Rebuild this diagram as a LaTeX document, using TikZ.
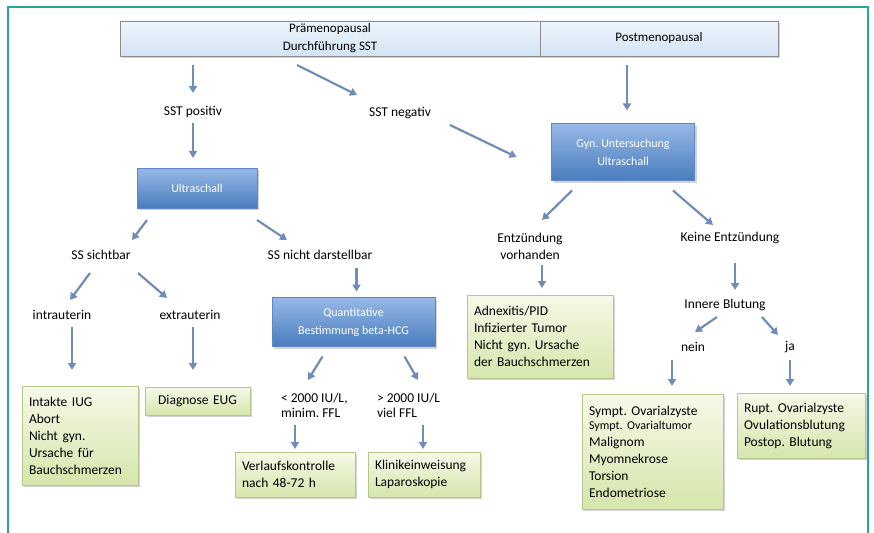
\documentclass[tikz,border=0pt]{standalone}
\usepackage{fontspec}
\setmainfont{Carlito}
\frenchspacing
\usetikzlibrary{arrows.meta,shadows,calc}
\definecolor{arrowc}{RGB}{112,140,184}
\definecolor{blueT}{RGB}{150,185,230}
\definecolor{blueB}{RGB}{74,124,190}
\definecolor{blueD}{RGB}{95,135,195}
\definecolor{greenT}{RGB}{246,249,232}
\definecolor{greenB}{RGB}{214,230,172}
\definecolor{greenD}{RGB}{180,200,140}
\definecolor{barT}{RGB}{238,245,252}
\definecolor{barB}{RGB}{212,228,245}
\definecolor{barD}{RGB}{140,140,140}
\definecolor{framec}{RGB}{38,166,148}
\begin{document}
\begin{tikzpicture}[x=1pt,y=-1pt,
  every node/.style={inner sep=0pt, outer sep=0pt},
  arr/.style={draw=arrowc, line width=2.2pt, -{Triangle[length=7pt,width=8pt]}},
  lbl/.style={font=\fontsize{13.5}{17}\selectfont, align=center},
  lbll/.style={font=\fontsize{13.5}{15}\selectfont, align=left, anchor=west},
  bluebox/.style={draw=blueD, top color=blueT, bottom color=blueB, text=white,
    font=\fontsize{12}{18}\selectfont, align=center, drop shadow={opacity=0.35}},
  greenbox/.style={draw=greenD, top color=greenT, bottom color=greenB,
    font=\fontsize{13.5}{17}\selectfont, align=left, anchor=north west,
    inner xsep=7pt, drop shadow={opacity=0.35}},
  barbox/.style={draw=barD, top color=barT, bottom color=barB,
    font=\fontsize{13}{18}\selectfont, align=center, anchor=north west,
    drop shadow={opacity=0.35}}
]
\useasboundingbox (0,0) rectangle (874,532);
\draw[framec, line width=2.5pt] (8,7) rectangle (868,545);

% top bar
\node[barbox, minimum width=420, minimum height=35] (pre) at (120,21) {Prämenopausal\\Durchführung SST};
\node[barbox, minimum width=238, minimum height=35] (post) at (540,21) {Postmenopausal};

% labels and boxes
\node[lbl] (sstpos) at (193,112) {SST positiv};
\node[lbl] (sstneg) at (400,113) {SST negativ};
\node[bluebox, minimum width=120, minimum height=40] (ultra) at (197,188) {Ultraschall};
\node[bluebox, minimum width=143, minimum height=57] (gyn) at (623,152) {Gyn. Untersuchung\\Ultraschall};
\node[lbl] (sssicht) at (101,255) {SS sichtbar};
\node[lbl] (ssnicht) at (320,255) {SS nicht darstellbar};
\node[lbl] (entz) at (530,246) {Entzündung\\vorhanden};
\node[lbl] (keine) at (730,238) {Keine Entzündung};
\node[lbl] (intra) at (62,315) {intrauterin};
\node[lbl] (extra) at (190,315) {extrauterin};
\node[bluebox, minimum width=163, minimum height=49] (quant) at (353.5,322) {Quantitative\\Bestimmung beta-HCG};
\node[lbll] (lt) at (281,405) {< 2000 IU/L,\\minim. FFL};
\node[lbll] (gt) at (377,405) {> 2000 IU/L\\viel FFL};
\node[lbl] (innere) at (725,305) {Innere Blutung};
\node[lbl] (nein) at (693,347) {nein};
\node[lbl] (ja) at (790,347) {ja};

\node[greenbox, text width=102, minimum height=99] (intak) at (22,386) {Intakte IUG\\Abort\\Nicht gyn.\\Ursache für\\Bauchschmerzen};
\node[greenbox, text width=91, minimum height=28, align=center] (eug) at (145,387) {Diagnose EUG};
\node[greenbox, text width=106, minimum height=45] (verl) at (235,452) {Verlaufskontrolle\\nach 48-72 h};
\node[greenbox, text width=98, minimum height=45] (klin) at (368,452) {Klinikeinweisung\\Laparoskopie};
\node[greenbox, text width=132, minimum height=83] (adnex) at (467,295) {Adnexitis/PID\\Infizierter Tumor\\Nicht gyn. Ursache\\der Bauchschmerzen};
\node[greenbox, text width=127, minimum height=115] (sympt) at (582,394) {Sympt. Ovarialzyste\\[-3pt]{\fontsize{12}{13}\selectfont Sympt. Ovarialtumor}\\Malignom\\Myomnekrose\\Torsion\\Endometriose};
\node[greenbox, text width=114, minimum height=65] (rupt) at (737,393) {Rupt. Ovarialzyste\\Ovulationsblutung\\Postop. Blutung};

% connectors
\draw[arr] ($(pre.south -| sstpos)+(0,9)$) -- ($(sstpos)+(0,-19)$);
\draw[arr] ($(sstpos)+(0,11)$) -- ($(ultra.north)+(-4,-10)$);
\draw[arr] ($(pre.south)+(-33,9)$) -- ($(sstneg)+(-43,-18)$);
\draw[arr] ($(sstneg)+(50,12)$) -- ($(gyn.west)+(-35,5)$);
\draw[arr] ($(gyn.north |- post.south)+(4,9)$) -- ($(gyn.north)+(4,-13)$);
\draw[arr] ($(ultra.south)+(-50,12)$) -- ($(sssicht)+(31,-15)$);
\draw[arr] ($(ultra.south)+(60,12)$) -- ($(ssnicht)+(-33,-15)$);
\draw[arr] ($(gyn.south)+(-51,10)$) -- ($(entz)+(12,-26)$);
\draw[arr] ($(gyn.south)+(50,10)$) -- ($(keine)+(-17,-13)$);
\draw[arr] ($(sssicht)+(-11,18)$) -- ($(intra)+(8,-15)$);
\draw[arr] ($(sssicht)+(37,18)$) -- ($(extra)+(-23,-17)$);
\draw[arr] ($(intra)+(10,12)$) -- ($(intra |- intak.north)+(10,-16)$);
\draw[arr] ($(extra)+(3,12)$) -- ($(extra |- eug.north)+(3,-17)$);
\draw[arr] ($(ssnicht -| quant.north)+(3,13)$) -- ($(quant.north)+(3,-6)$);
\draw[arr] ($(quant.south)+(-31,10)$) -- ($(lt.west)+(27,-25)$);
\draw[arr] ($(quant.south)+(51,10)$) -- ($(gt.west)+(41,-25)$);
\draw[arr] ($(lt.west)+(14,20)$) -- ($(lt.west |- verl.north)+(14,-3)$);
\draw[arr] ($(gt.west)+(46,20)$) -- ($(gt.west |- klin.north)+(46,-3)$);
\draw[arr] ($(entz)+(12,19)$) -- ($(entz |- adnex.north)+(12,-7)$);
\draw[arr] ($(keine)+(5,25)$) -- ($(innere)+(10,-15)$);
\draw[arr] ($(innere)+(-8,12)$) -- ($(nein)+(2,-15)$);
\draw[arr] ($(innere)+(37,12)$) -- ($(ja)+(-12,-12)$);
\draw[arr] ($(nein)+(-21,13)$) -- ($(nein |- sympt.north)+(-21,-8)$);
\draw[arr] ($(ja)+(0,13)$) -- ($(ja |- rupt.north)+(0,-7)$);
\end{tikzpicture}
\end{document}
